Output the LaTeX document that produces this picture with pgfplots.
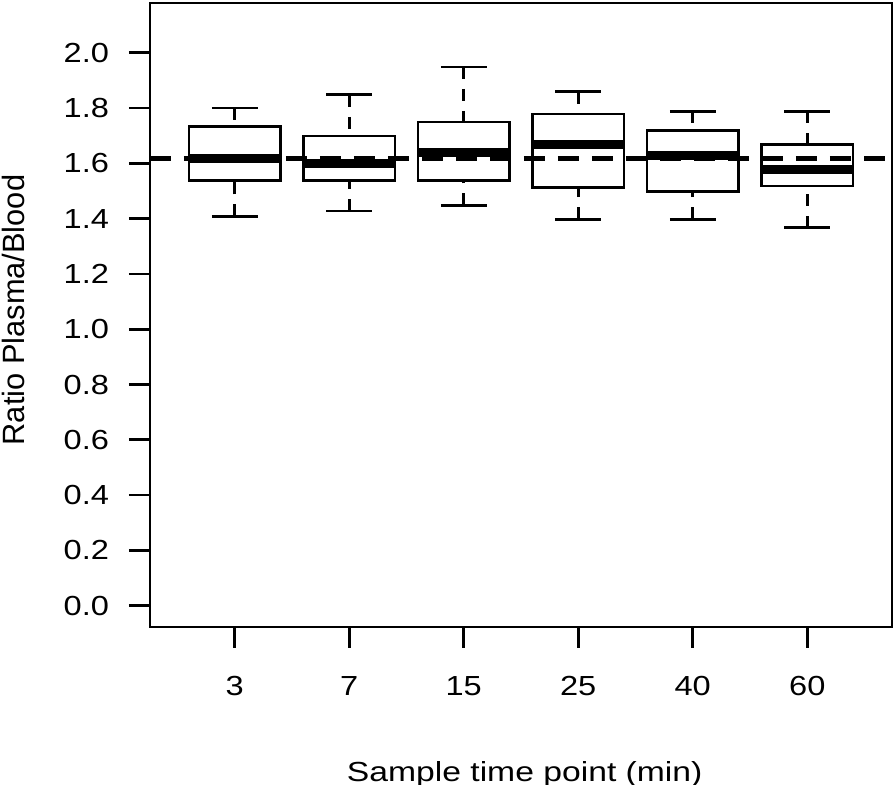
\documentclass[border=0pt]{standalone}
\usepackage{fontspec}
\setmainfont[FakeStretch=1.18]{Liberation Sans}
\newfontfamily\labfont[FakeStretch=1.22]{Liberation Sans}
\newfontfamily\ylabfont{Liberation Sans}
\usepackage{pgfplots}
\pgfplotsset{compat=1.18}
\usepgfplotslibrary{statistics}
\newcommand{\lblfont}{\fontsize{13.8pt}{16pt}\selectfont}
\pgfplotsset{
  boxplot/draw/lower whisker/.code={%
    \draw[black, line width=1.35pt, dash pattern=on 6pt off 5pt]
      (boxplot box cs:\pgfplotsboxplotvalue{lower whisker},0.5) --
      (boxplot box cs:\pgfplotsboxplotvalue{lower quartile},0.5);
    \draw[black, line width=1.35pt]
      (boxplot whisker cs:\pgfplotsboxplotvalue{lower whisker},0) --
      (boxplot whisker cs:\pgfplotsboxplotvalue{lower whisker},1);
  },
  boxplot/draw/upper whisker/.code={%
    \draw[black, line width=1.35pt, dash pattern=on 6pt off 5pt]
      (boxplot box cs:\pgfplotsboxplotvalue{upper whisker},0.5) --
      (boxplot box cs:\pgfplotsboxplotvalue{upper quartile},0.5);
    \draw[black, line width=1.35pt]
      (boxplot whisker cs:\pgfplotsboxplotvalue{upper whisker},0) --
      (boxplot whisker cs:\pgfplotsboxplotvalue{upper whisker},1);
  },
  boxplot/draw/median/.code={%
    \draw[black, line width=4.4pt]
      (boxplot box cs:\pgfplotsboxplotvalue{median},0) --
      (boxplot box cs:\pgfplotsboxplotvalue{median},1);
  },
  mybox/.style={black, line width=1.35pt, solid},
}
\begin{document}
\begin{tikzpicture}
\useasboundingbox (-75pt,-79pt) rectangle (373pt,313.5pt);
\begin{axis}[
  at={(0,0)}, anchor=south west,
  scale only axis, width=371pt, height=312pt,
  xmin=0.26, xmax=6.74, ymin=-0.077, ymax=2.18,
  boxplot/draw direction=y,
  xtick={1,2,3,4,5,6}, xticklabels={3,7,15,25,40,60},
  ytick={0,0.2,0.4,0.6,0.8,1.0,1.2,1.4,1.6,1.8,2.0},
  xtick pos=left, ytick pos=left,
  tick align=outside, major tick length=10.5pt,
  tick style={black, line width=1.35pt},
  axis line style={black, line width=1.35pt},
  ticklabel style={font=\lblfont},
  xticklabel style={yshift=-10.5pt},
  yticklabel style={xshift=-6.5pt, /pgf/number format/.cd, fixed, fixed zerofill, precision=1, assume math mode=true},
  xlabel={Sample time point (min)},
  ylabel={Ratio Plasma/Blood},
  xlabel style={font=\labfont\lblfont, at={(axis description cs:0.505,-0.247)}, anchor=base},
  ylabel style={font=\ylabfont\fontsize{15.4pt}{18pt}\selectfont, at={(axis description cs:-0.184,0.508)}, anchor=center},
  clip=true,
]
\addplot[mybox, boxplot prepared={draw position=1, lower whisker=1.408, lower quartile=1.537, median=1.617, upper quartile=1.733, upper whisker=1.800, box extend=0.8, whisker extend=0.4}] coordinates {};
\addplot[mybox, boxplot prepared={draw position=2, lower whisker=1.428, lower quartile=1.537, median=1.599, upper quartile=1.699, upper whisker=1.848, box extend=0.8, whisker extend=0.4}] coordinates {};
\addplot[mybox, boxplot prepared={draw position=3, lower whisker=1.448, lower quartile=1.537, median=1.638, upper quartile=1.749, upper whisker=1.949, box extend=0.8, whisker extend=0.4}] coordinates {};
\addplot[mybox, boxplot prepared={draw position=4, lower whisker=1.398, lower quartile=1.512, median=1.668, upper quartile=1.779, upper whisker=1.859, box extend=0.8, whisker extend=0.4}] coordinates {};
\addplot[mybox, boxplot prepared={draw position=5, lower whisker=1.398, lower quartile=1.498, median=1.628, upper quartile=1.719, upper whisker=1.788, box extend=0.8, whisker extend=0.4}] coordinates {};
\addplot[mybox, boxplot prepared={draw position=6, lower whisker=1.367, lower quartile=1.518, median=1.578, upper quartile=1.669, upper whisker=1.788, box extend=0.8, whisker extend=0.4}] coordinates {};
\addplot[black, line width=2.3pt, dash pattern=on 10.5pt off 6.5pt, mark=none] coordinates {(0.26,1.618) (6.74,1.618)};
\end{axis}
\end{tikzpicture}
\end{document}
